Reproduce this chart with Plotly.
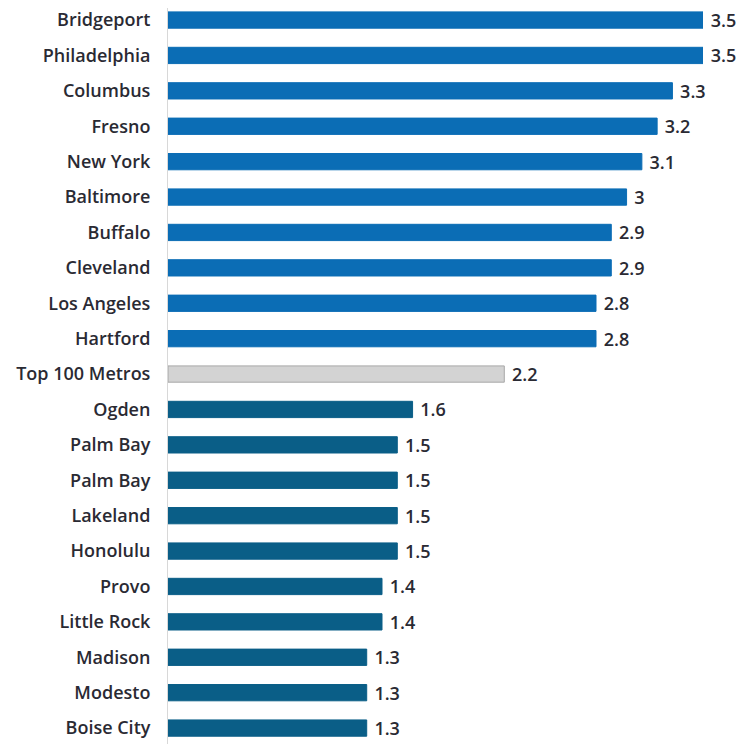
import plotly.graph_objects as go

cities = ["Bridgeport", "Philadelphia", "Columbus", "Fresno", "New York", "Baltimore",
          "Buffalo", "Cleveland", "Los Angeles", "Hartford", "Top 100 Metros",
          "Ogden", "Palm Bay", "Palm Bay", "Lakeland", "Honolulu", "Provo",
          "Little Rock", "Madison", "Modesto", "Boise City"]
values = [3.5, 3.5, 3.3, 3.2, 3.1, 3.0, 2.9, 2.9, 2.8, 2.8, 2.2,
          1.6, 1.5, 1.5, 1.5, 1.5, 1.4, 1.4, 1.3, 1.3, 1.3]
groups = ["top"] * 10 + ["avg"] + ["bottom"] * 10

fill = {"top": "#0b6db5", "avg": "#d3d3d3", "bottom": "#0a5e87"}
edge = {"top": "#0b6db5", "avg": "#a8a8a8", "bottom": "#0a5e87"}

pos = list(range(len(cities)))
labels = [f" {v:g}" for v in values]

FONT = dict(family="Open Sans", size=18, color="#2a2a33", weight=600)

fig = go.Figure(go.Bar(
    x=values, y=pos, orientation="h", width=0.46,
    marker=dict(color=[fill[g] for g in groups],
                line=dict(color=[edge[g] for g in groups], width=1)),
    text=labels, textposition="outside", cliponaxis=False,
    constraintext="none",
    textfont=FONT,
))

fig.update_layout(
    width=740, height=736,
    margin=dict(l=160, r=45, t=0, b=0, autoexpand=False),
    plot_bgcolor="white", paper_bgcolor="white",
    showlegend=False,
    xaxis=dict(range=[0, 3.5], visible=False),
    yaxis=dict(tickvals=pos, ticktext=cities,
               range=[20.45, -0.34],
               showgrid=False, zeroline=False, showline=True,
               linecolor="#d8d8d8", linewidth=1, ticks="",
               ticklabelstandoff=13, ticklabeloverflow="allow",
               tickfont=FONT),
)

fig.write_html("out.html")
